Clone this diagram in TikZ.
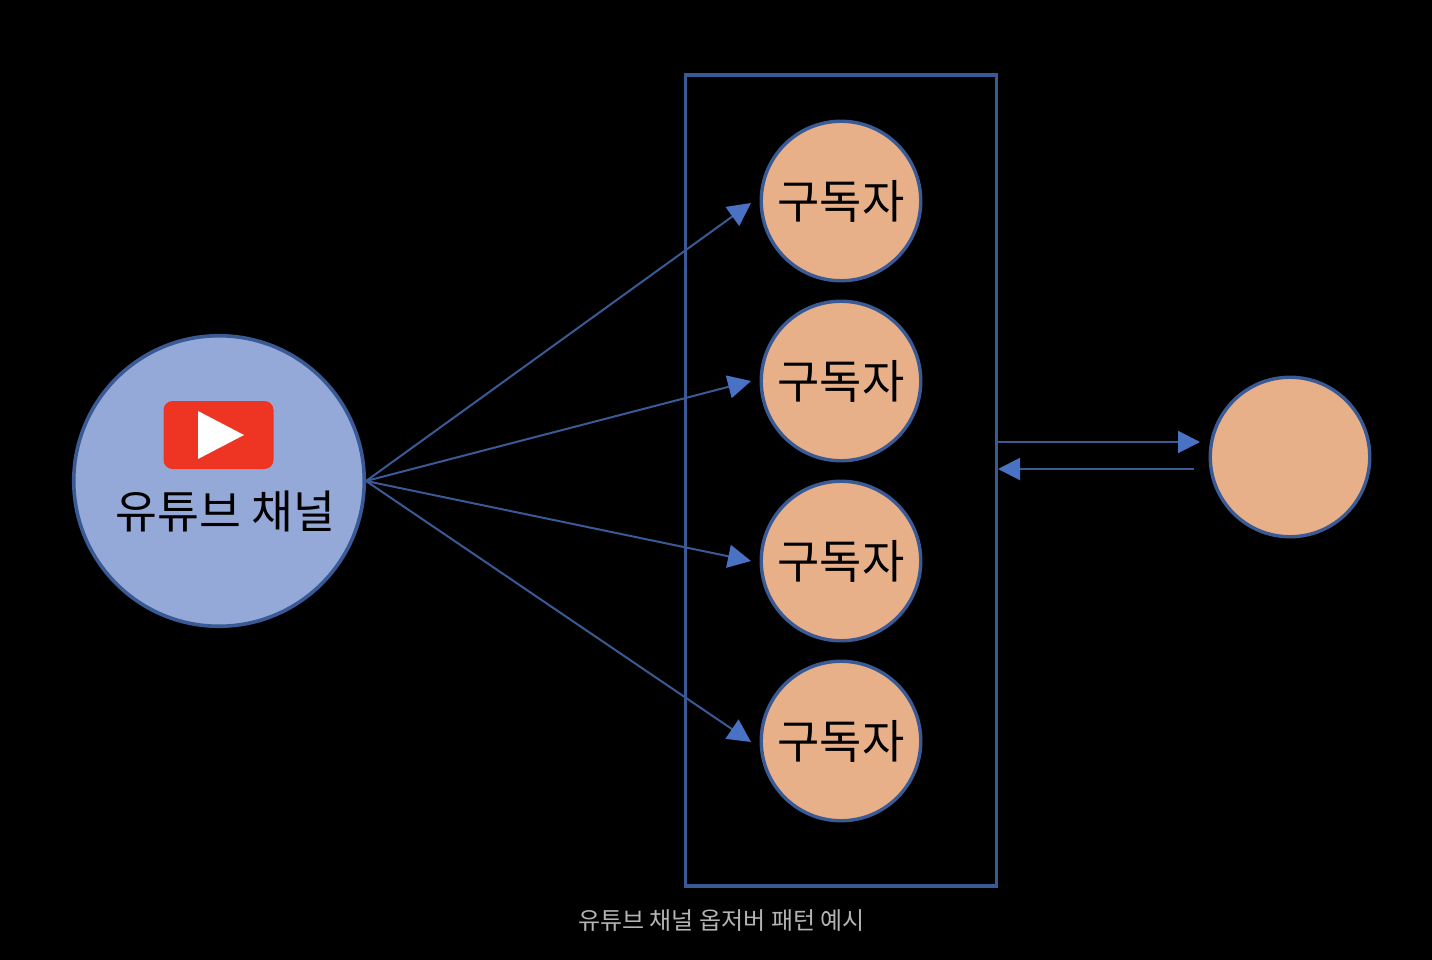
\documentclass[tikz,border=0pt]{standalone}
\usepackage{fontspec}
\newfontfamily\kr{Noto Sans CJK KR}
\usetikzlibrary{arrows.meta}
\definecolor{edgeblue}{HTML}{3A5A96}
\definecolor{arrowblue}{HTML}{4A72C4}
\definecolor{bluefill}{HTML}{95A9D8}
\definecolor{peach}{HTML}{E8B089}
\definecolor{ytred}{HTML}{EE3524}
\definecolor{capgrey}{HTML}{B4B4B4}
\tikzset{
  subnode/.style={circle,draw=edgeblue,line width=3.4pt,fill=peach,minimum size=159.500pt,inner sep=0pt,font=\kr\fontsize{46}{46}\selectfont,text=black},
  link/.style={draw=edgeblue,line width=2pt,-{Triangle[length=23pt,width=23pt,fill=arrowblue,color=arrowblue]}},
  linkb/.style={draw=edgeblue,line width=2pt,-{Triangle[length=22pt,width=22pt,fill=arrowblue,color=arrowblue]}}
}
\begin{document}
\begin{tikzpicture}[x=1pt,y=-1pt]
\useasboundingbox[fill=black] (0,0) rectangle (1432,960);
\node[draw=edgeblue,line width=3.5pt,minimum width=311pt,minimum height=811pt,inner sep=0pt] (box) at (841,480.500) {};
\node[circle,draw=edgeblue,line width=3.6pt,fill=bluefill,minimum size=290.500pt,inner sep=0pt] (yt) at (219,481) {};
\node[fill=ytred,rounded corners=9pt,minimum width=110pt,minimum height=68pt,inner sep=0pt] (logo) at (218.500,435) {};
\fill[white] (198,411) -- (244,435) -- (198,459) -- cycle;
\node[font=\kr\fontsize{45.5}{45.5}\selectfont,text=black,inner sep=0pt] (ytlabel) at (225.500,511) {유튜브 채널};
\node[subnode] (s1) at (841,201) {구독자};
\node[subnode] (s2) at (841,381) {구독자};
\node[subnode] (s3) at (841,561) {구독자};
\node[subnode] (s4) at (841,741) {구독자};
\node[subnode] (obs) at (1290,457) {};
\coordinate (e1) at (751,203);
\coordinate (e2) at (751,381);
\coordinate (e3) at (751,561);
\coordinate (e4) at (751,742);
\draw[link] (yt.east) -- (e1);
\draw[link] (yt.east) -- (e2);
\draw[link] (yt.east) -- (e3);
\draw[link] (yt.east) -- (e4);
\coordinate (b1) at (997,442);
\coordinate (o1) at (1200,442);
\coordinate (o2) at (1194,469);
\coordinate (b2) at (998,469);
\draw[linkb] (b1) -- (o1);
\draw[linkb] (o2) -- (b2);
\node[font=\kr\fontsize{24}{24}\selectfont,text=capgrey,inner sep=0pt] (cap) at (721.500,920.500) {유튜브 채널 옵저버 패턴 예시};
\end{tikzpicture}
\end{document}
